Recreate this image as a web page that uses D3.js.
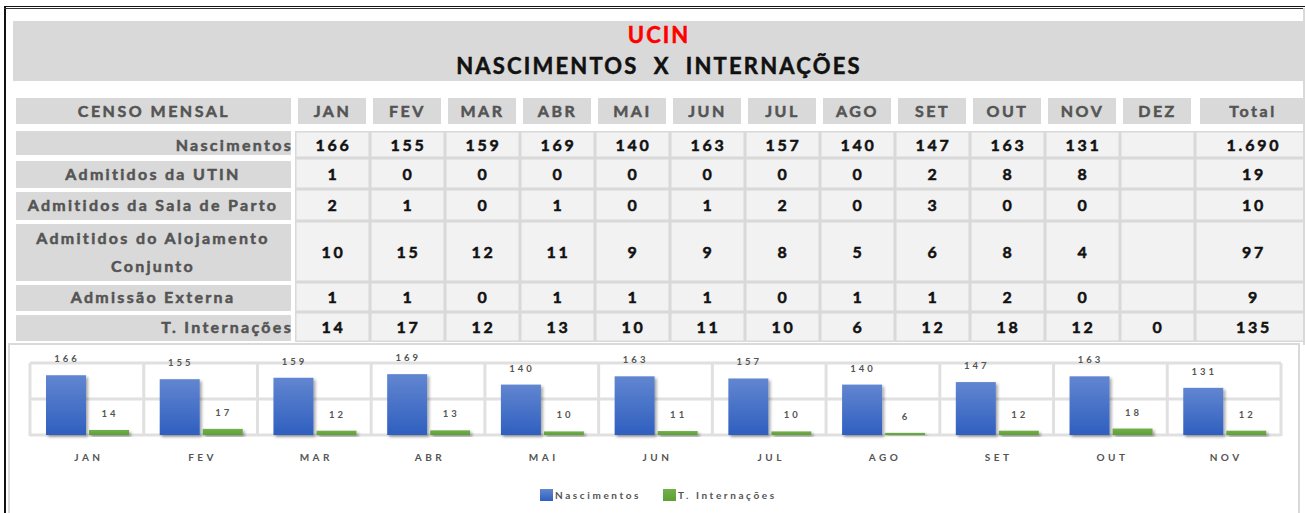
<!DOCTYPE html>
<html>
<head>
<meta charset="utf-8">
<script src="https://cdn.jsdelivr.net/npm/d3@7"></script>
<style>
  html, body { margin: 0; padding: 0; background: #fff; }
  svg { display: block; font-family: Lato, "Open Sans", sans-serif; font-weight: bold; }
  .heavy { stroke-width: 0.5px; paint-order: stroke; }
</style>
</head>
<body>
<svg id="chart" width="1305" height="513"></svg>
<script>
// dados do censo
var months = ["JAN", "FEV", "MAR", "ABR", "MAI", "JUN", "JUL", "AGO", "SET", "OUT", "NOV", "DEZ"];
var rowLabels = ["Nascimentos", "Admitidos da UTIN", "Admitidos da Sala de Parto", "Admitidos do Alojamento|Conjunto", "Admissão Externa", "T. Internações"];
var nascimentos = [166, 155, 159, 169, 140, 163, 157, 140, 147, 163, 131, null];
var admUtin = [1, 0, 0, 0, 0, 0, 0, 0, 2, 8, 8, null];
var admSalaParto = [2, 1, 0, 1, 0, 1, 2, 0, 3, 0, 0, null];
var admAlojamento = [10, 15, 12, 11, 9, 9, 8, 5, 6, 8, 4, null];
var admExterna = [1, 1, 0, 1, 1, 1, 0, 1, 1, 2, 0, null];
var totInternacoes = [14, 17, 12, 13, 10, 11, 10, 6, 12, 18, 12, 0];
var totals = ["1.690", "19", "10", "97", "9", "135"];
var chartMonths = months.slice(0, 11);
var series = ["Nascimentos", "T. Internações"];

var tableRows = [nascimentos, admUtin, admSalaParto, admAlojamento, admExterna, totInternacoes];

const svg = d3.select("#chart");
const labelColor = "#545454";

// moldura externa
svg.append("line").attr("x1", 5).attr("x2", 5).attr("y1", 6).attr("y2", 513)
    .attr("stroke", "#111").attr("stroke-width", 2);
svg.append("line").attr("x1", 4).attr("x2", 1305).attr("y1", 6.5).attr("y2", 6.5)
    .attr("stroke", "#111").attr("stroke-width", 1);
svg.append("line").attr("x1", 4).attr("x2", 1305).attr("y1", 8.5).attr("y2", 8.5)
    .attr("stroke", "#333").attr("stroke-width", 1);
svg.append("line").attr("x1", 1304).attr("x2", 1304).attr("y1", 8).attr("y2", 345)
    .attr("stroke", "#d9d9d9").attr("stroke-width", 2);

// faixa do título
svg.append("rect").attr("x", 13).attr("y", 21).attr("width", 1292).attr("height", 60).attr("fill", "#d9d9d9");
svg.append("text").attr("class", "heavy").attr("x", 659).attr("y", 43).attr("text-anchor", "middle")
    .attr("fill", "#ff0000").attr("stroke", "#ff0000").style("font-size", "22px").style("letter-spacing", "2px").text("UCIN");
svg.append("text").attr("class", "heavy").attr("x", 659).attr("y", 74).attr("text-anchor", "middle")
    .attr("fill", "#111").attr("stroke", "#111").style("font-size", "22px").style("letter-spacing", "2.2px")
    .style("white-space", "pre").text("NASCIMENTOS  X  INTERNAÇÕES");

// tabela
const x = d3.scaleBand().domain(months).range([295, 1195]);
const totalX0 = 1195, totalX1 = 1303;
const rowTop = [131, 158, 189, 221, 282, 312];
const rowBot = [158, 189, 221, 282, 312, 342];
const fs = "16px";

const head = svg.append("g");
head.append("rect").attr("x", 16).attr("y", 98).attr("width", 275).attr("height", 26).attr("fill", "#d9d9d9");
head.append("text").attr("class", "heavy").attr("x", 154).attr("y", 117).attr("text-anchor", "middle")
    .attr("fill", labelColor).attr("stroke", labelColor).style("font-size", fs).style("letter-spacing", "2.5px").text("CENSO MENSAL");
head.selectAll(".mh").data(months).join("rect")
    .attr("x", d => x(d) + 3).attr("y", 98).attr("width", x.bandwidth() - 7).attr("height", 26).attr("fill", "#d9d9d9");
head.selectAll(".mt").data(months).join("text").attr("class", "heavy")
    .attr("x", d => x(d) + x.bandwidth() / 2).attr("y", 117).attr("text-anchor", "middle")
    .attr("fill", labelColor).attr("stroke", labelColor).style("font-size", fs).style("letter-spacing", "2.5px").text(d => d);
head.append("rect").attr("x", totalX0 + 5).attr("y", 98).attr("width", totalX1 - totalX0 - 5).attr("height", 26).attr("fill", "#d9d9d9");
head.append("text").attr("class", "heavy").attr("x", (totalX0 + totalX1) / 2 + 4).attr("y", 117).attr("text-anchor", "middle")
    .attr("fill", labelColor).attr("stroke", labelColor).style("font-size", fs).style("letter-spacing", "2.5px").text("Total");

// fundo das células
svg.append("rect").attr("x", 295).attr("y", 131).attr("width", totalX1 - 295).attr("height", 211).attr("fill", "#d9d9d9");

const body = svg.append("g");
tableRows.forEach(function (vals, r) {
    const y0 = rowTop[r], y1 = rowBot[r];
    const cy = (y0 + y1) / 2 + 6;
    // rótulo da linha
    body.append("rect").attr("x", 16).attr("y", y0 + (r ? 3 : 0)).attr("width", 275)
        .attr("height", y1 - y0 - (r ? 4 : 3)).attr("fill", "#d9d9d9");
    const lab = rowLabels[r].split("|");
    const right = (r == 0 || r == 5);
    lab.forEach(function (t, i) {
        body.append("text").attr("class", "heavy")
            .attr("x", right ? 293 : 153)
            .attr("y", lab.length > 1 ? y0 + 23 + i * 28 : cy)
            .attr("text-anchor", right ? "end" : "middle")
            .attr("fill", labelColor).attr("stroke", labelColor)
            .style("font-size", fs).style("letter-spacing", "2.3px")
            .text(t);
    });
    // células
    body.selectAll(null).data(months).join("rect")
        .attr("x", d => x(d) + 1.5).attr("y", y0 + 1.5)
        .attr("width", x.bandwidth() - 3).attr("height", y1 - y0 - 3).attr("fill", "#f2f2f2");
    body.append("rect").attr("x", totalX0 + 1.5).attr("y", y0 + 1.5)
        .attr("width", totalX1 - totalX0 - 1.5).attr("height", y1 - y0 - 3).attr("fill", "#f2f2f2");
    body.selectAll(null).data(vals).join("text").attr("class", "heavy")
        .attr("x", (d, i) => x(months[i]) + x.bandwidth() / 2 + 1)
        .attr("y", cy).attr("text-anchor", "middle").attr("fill", "#111").attr("stroke", "#111")
        .style("font-size", fs).style("letter-spacing", "2.8px")
        .text(d => d == null ? "" : d);
    body.append("text").attr("class", "heavy").attr("x", (totalX0 + totalX1) / 2 + 5).attr("y", cy)
        .attr("text-anchor", "middle").attr("fill", "#111").attr("stroke", "#111")
        .style("font-size", fs).style("letter-spacing", "2.8px").text(totals[r]);
});

// área do gráfico
svg.append("rect").attr("x", 9).attr("y", 344).attr("width", 1290).attr("height", 175)
    .attr("fill", "#fff").attr("stroke", "#d9d9d9").attr("stroke-width", 2);

const defs = svg.append("defs");
const gb = defs.append("linearGradient").attr("id", "gBlue").attr("x1", 0).attr("x2", 0).attr("y1", 0).attr("y2", 1);
gb.append("stop").attr("offset", "0%").attr("stop-color", "#6286d0");
gb.append("stop").attr("offset", "100%").attr("stop-color", "#2f5fbf");
const gg = defs.append("linearGradient").attr("id", "gGreen").attr("x1", 0).attr("x2", 0).attr("y1", 0).attr("y2", 1);
gg.append("stop").attr("offset", "0%").attr("stop-color", "#72b04a");
gg.append("stop").attr("offset", "100%").attr("stop-color", "#5e9f36");
const sh = defs.append("filter").attr("id", "shadow").attr("x", "-20%").attr("y", "-20%").attr("width", "150%").attr("height", "150%");
sh.append("feDropShadow").attr("dx", 2).attr("dy", 2).attr("stdDeviation", 1.5)
    .attr("flood-color", "#000").attr("flood-opacity", 0.35);

const cx = d3.scaleBand().domain(chartMonths).range([30, 1281]);
const sx = d3.scaleBand().domain(series).range([16, 99]).paddingInner(0.07);
const y = d3.scaleLinear().domain([0, 200]).range([435, 363]);
const barColor = { "Nascimentos": "url(#gBlue)", "T. Internações": "url(#gGreen)" };

const grid = svg.append("g").attr("stroke", "#e0e0e0").attr("stroke-width", 3);
grid.selectAll(".h").data(y.ticks(2)).join("line")
    .attr("x1", 30).attr("x2", 1281).attr("y1", d => y(d)).attr("y2", d => y(d));
grid.selectAll(".v").data(chartMonths.concat(["end"])).join("line")
    .attr("x1", d => d == "end" ? 1281 : cx(d)).attr("x2", d => d == "end" ? 1281 : cx(d))
    .attr("y1", y(200)).attr("y2", y(0) + 1);

const barData = chartMonths.map(function (m, i) {
    return { m: m, vals: [{ s: series[0], v: nascimentos[i] }, { s: series[1], v: totInternacoes[i] }] };
});
const groups = svg.append("g").selectAll("g").data(barData).join("g")
    .attr("transform", d => `translate(${cx(d.m)},0)`);
groups.selectAll("rect").data(d => d.vals).join("rect")
    .attr("x", d => sx(d.s)).attr("width", sx.bandwidth())
    .attr("y", d => y(d.v)).attr("height", d => y(0) - y(d.v))
    .attr("fill", d => barColor[d.s]).attr("filter", "url(#shadow)");
groups.selectAll("text").data(d => d.vals).join("text")
    .attr("x", d => sx(d.s) + sx.bandwidth() / 2 + 1).attr("y", d => y(d.v) - 13)
    .attr("text-anchor", "middle").attr("fill", labelColor)
    .style("font-size", "9.5px").style("letter-spacing", "3px").text(d => d.v);

// eixo x
const xAxis = svg.append("g").attr("transform", "translate(0,458)")
    .call(d3.axisBottom(cx).tickSize(0));
xAxis.select(".domain").remove();
xAxis.selectAll("text").attr("fill", labelColor).attr("dy", 0).attr("dx", 2)
    .style("font-family", "Lato, sans-serif").style("font-weight", "bold")
    .style("font-size", "10px").style("letter-spacing", "3.5px");

// legenda
const legend = svg.append("g").attr("transform", "translate(540,489)");
const lg = legend.selectAll("g").data(series).join("g")
    .attr("transform", (d, i) => `translate(${i * 123},0)`);
lg.append("rect").attr("width", 13).attr("height", 12).attr("fill", d => barColor[d]);
lg.append("text").attr("x", 15).attr("y", 10).attr("fill", labelColor)
    .style("font-size", "10px").style("letter-spacing", "2.6px").text(d => d);
</script>
</body>
</html>
